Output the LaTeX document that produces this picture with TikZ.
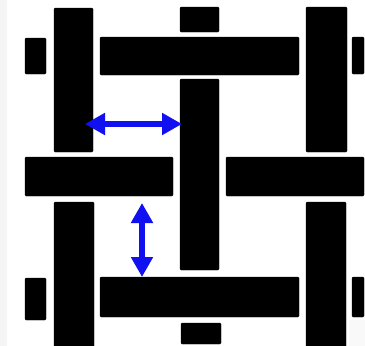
\documentclass[tikz,border=0pt]{standalone}
\usetikzlibrary{arrows.meta}
\definecolor{arrowblue}{RGB}{16,16,240}
\tikzset{
  bar/.style={fill=black, draw=black, line width=0.4pt, rounded corners=1.2pt},
  dim/.style={draw=arrowblue, line width=6pt, {Triangle[length=20pt 0,width=21pt 0]}-{Triangle[length=20pt 0,width=21pt 0]}},
}
\begin{document}
\begin{tikzpicture}[x=1pt,y=-1pt]
\useasboundingbox (0,0) rectangle (365,346);
\fill[white] (0,0) rectangle (365,346);
\fill[gray!8] (0,0) rectangle (7,346);
\fill[gray!5] (349,320) rectangle (365,346);
% top row
\draw[bar] (25,38) rectangle (46,74);
\draw[bar] (54,8) rectangle (93,152);
\draw[bar] (100,37) rectangle (299,75);
\draw[bar] (180,7) rectangle (219,32);
\draw[bar] (180,79) rectangle (219,270);
\draw[bar] (306,7) rectangle (347,152);
\draw[bar] (352,37) rectangle (364,74);
% middle row
\draw[bar] (25,157) rectangle (173,196);
\draw[bar] (226,157) rectangle (364,196);
% bottom row
\draw[bar] (54,202) rectangle (94,348);
\draw[bar] (25,278) rectangle (46,320);
\draw[bar] (100,277) rectangle (299,317);
\draw[bar] (306,202) rectangle (346,348);
\draw[bar] (352,277) rectangle (364,317);
\draw[bar] (181,323) rectangle (221,344);
% arrows
\coordinate (hL) at (85,124);
\coordinate (hR) at (182,124);
\coordinate (vT) at (142,203);
\coordinate (vB) at (142,277);
\draw[dim] (hL) -- (hR);
\draw[dim] (vT) -- (vB);
\end{tikzpicture}
\end{document}
